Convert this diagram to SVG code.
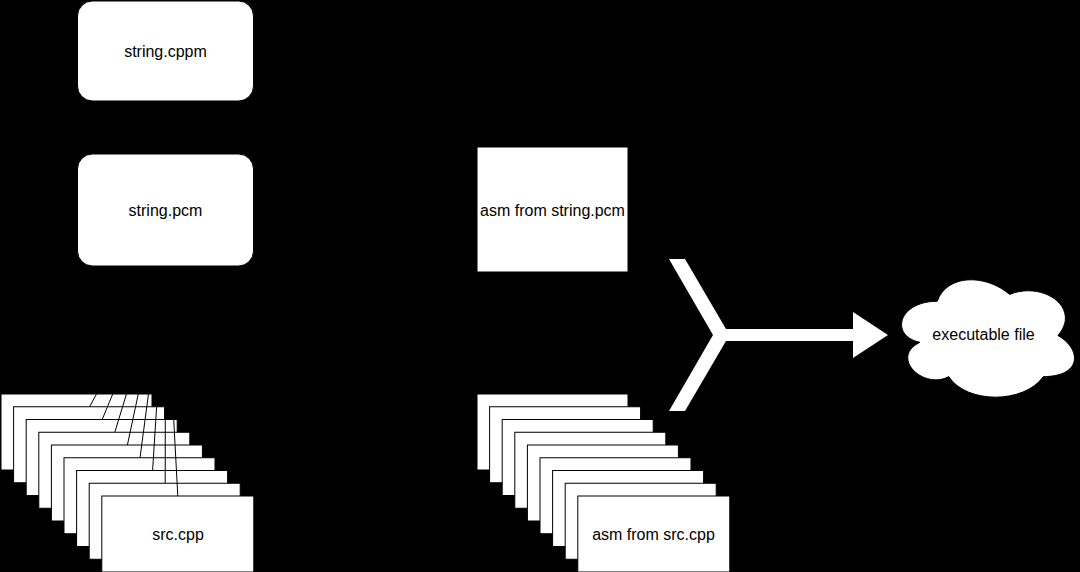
<svg xmlns="http://www.w3.org/2000/svg" width="1080" height="572" viewBox="0 0 1080 572">
<style>
.box{fill:#ffffff;stroke:#000000;stroke-width:1}
.lbl{font-family:"Liberation Sans",Arial,sans-serif;font-size:16px;fill:#000000;text-anchor:middle}
.edge{fill:none;stroke:#000000;stroke-width:1}
.big{fill:#ffffff;stroke:none}
</style>
<rect x="0" y="0" width="1080" height="572" fill="#000000"/>
<g id="string-cppm"><rect class="box" x="77.5" y="1" width="176" height="100" rx="15"/><text class="lbl" x="165.5" y="56.5">string.cppm</text></g>
<g id="string-pcm"><rect class="box" x="77.5" y="154" width="176" height="112" rx="15"/><text class="lbl" x="165.5" y="215.5">string.pcm</text></g>
<g id="asm-string-pcm"><rect class="box" x="477" y="147" width="151" height="125"/><text class="lbl" x="552.5" y="215.5">asm from string.pcm</text></g>
<g id="src-stack">
<rect class="box" x="1" y="394" width="151" height="76"/>
<rect class="box" x="13.6" y="406.75" width="151" height="76"/>
<rect class="box" x="26.2" y="419.5" width="151" height="76"/>
<rect class="box" x="38.8" y="432.25" width="151" height="76"/>
<rect class="box" x="51.4" y="445" width="151" height="76"/>
<rect class="box" x="64" y="457.75" width="151" height="76"/>
<rect class="box" x="76.6" y="470.5" width="151" height="76"/>
<rect class="box" x="89.2" y="483.25" width="151" height="76"/>
<rect class="box" x="101.8" y="496" width="152" height="76"/>
</g>
<g id="asm-src-stack">
<rect class="box" x="477" y="394" width="151" height="76"/>
<rect class="box" x="489.6" y="406.75" width="151" height="76"/>
<rect class="box" x="502.2" y="419.5" width="151" height="76"/>
<rect class="box" x="514.8" y="432.25" width="151" height="76"/>
<rect class="box" x="527.4" y="445" width="151" height="76"/>
<rect class="box" x="540" y="457.75" width="151" height="76"/>
<rect class="box" x="552.6" y="470.5" width="151" height="76"/>
<rect class="box" x="565.2" y="483.25" width="151" height="76"/>
<rect class="box" x="577.8" y="496" width="152" height="76"/>
</g>
<g id="executable"><path class="box" d="M937.25,301.25 C898.65,301.25 889,335.5 919.88,342.35 C889,357.42 923.74,390.3 948.83,376.6 C966.2,404 1024.1,404 1043.4,376.6 C1082,376.6 1082,349.2 1057.88,335.5 C1082,308.1 1043.4,280.7 1009.63,294.4 C985.5,273.85 946.9,273.85 937.25,301.25 Z"/><text class="lbl" x="983.5" y="339.5">executable file</text></g>
<g id="connectors">
<line class="edge" x1="77" y1="394" x2="165.5" y2="266"/>
<line class="edge" x1="89.6" y1="406.75" x2="165.5" y2="266"/>
<line class="edge" x1="102.2" y1="419.5" x2="165.5" y2="266"/>
<line class="edge" x1="114.8" y1="432.25" x2="165.5" y2="266"/>
<line class="edge" x1="127.4" y1="445" x2="165.5" y2="266"/>
<line class="edge" x1="140" y1="457.75" x2="165.5" y2="266"/>
<line class="edge" x1="152.6" y1="470.5" x2="165.5" y2="266"/>
<line class="edge" x1="165.2" y1="483.25" x2="165.5" y2="266"/>
<line class="edge" x1="177.8" y1="496" x2="165.5" y2="266"/>
<polygon class="big" points="669,259 685,259 726,329 853,329 853,312 888,335 853,358 853,341 726,341 685,411 669,411 713,335"/>
</g>
<text class="lbl" x="178" y="539.5">src.cpp</text>
<text class="lbl" x="653.5" y="539.5">asm from src.cpp</text>
</svg>
